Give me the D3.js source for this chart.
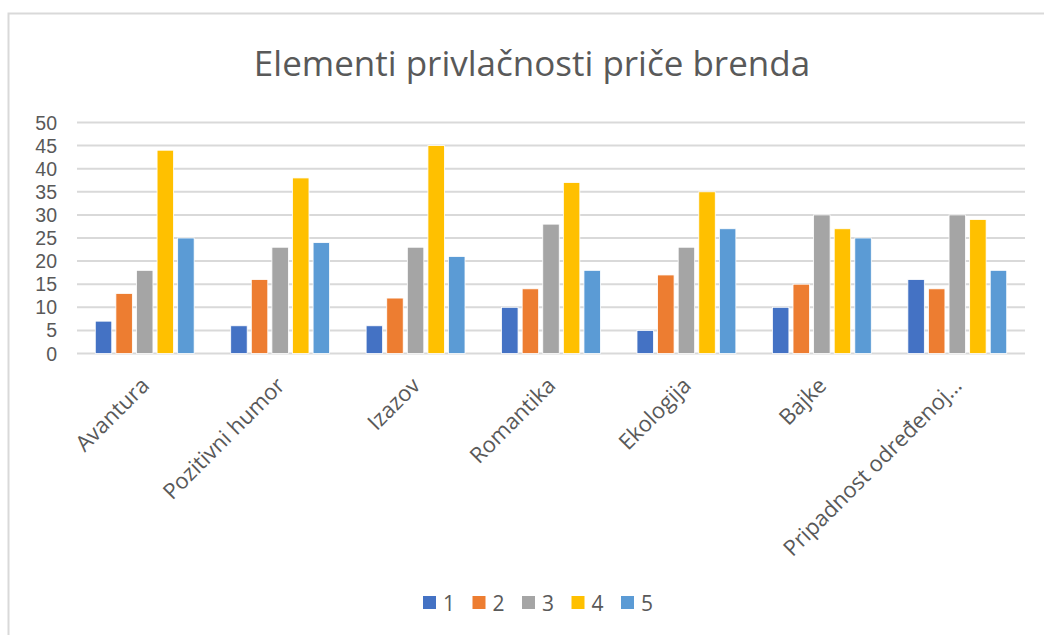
<!DOCTYPE html>
<html>
<head>
<meta charset="utf-8">
<script src="https://cdn.jsdelivr.net/npm/d3@7"></script>
<style>
  body { margin: 0; background: #fff; }
  svg { display: block; font-family: "Open Sans", sans-serif; }
</style>
</head>
<body>
<svg id="chart" width="1044" height="635"></svg>
<script>
'use strict';

const categories = ["Avantura", "Pozitivni humor", "Izazov", "Romantika", "Ekologija", "Bajke", "Pripadnost određenoj..."]
const seriesNames = ["1", "2", "3", "4", "5"]
const series1 = [7, 6, 6, 10, 5, 10, 16]
const series2 = [13, 16, 12, 14, 17, 15, 14]
const series3 = [18, 23, 23, 28, 23, 30, 30]
const series4 = [44, 38, 45, 37, 35, 27, 29]
const series5 = [25, 24, 21, 18, 27, 25, 18]
const yTicks = [0, 5, 10, 15, 20, 25, 30, 35, 40, 45, 50]
const colors = ["#4472c4", "#ed7d31", "#a5a5a5", "#ffc000", "#5b9bd5"]

let allSeries = [series1, series2, series3, series4, series5]

let svg = d3.select("#chart")

// chart frame
svg.append("rect")
    .attr("x", 8.5).attr("y", 13.5)
    .attr("width", 1060).attr("height", 640)
    .attr("fill", "#fff")
    .attr("stroke", "#d9d9d9")
    .attr("stroke-width", 2)

svg.append("text")
    .attr("x", 532).attr("y", 76)
    .attr("text-anchor", "middle")
    .attr("font-size", 35)
    .attr("fill", "#595959")
    .text("Elementi privlačnosti priče brenda")

let plotLeft = 77, plotRight = 1025
let y = d3.scaleLinear().domain([0, 50]).range([353.5, 122.5])

let x0 = d3.scaleBand()
    .domain(categories)
    .range([plotLeft, plotRight])
    .paddingInner(0.27)
    .paddingOuter(0.135)

let x1 = d3.scaleBand()
    .domain(seriesNames)
    .range([0, x0.bandwidth()])
    .paddingInner(0.2)

// gridlines
svg.append("g")
    .selectAll("line")
    .data(yTicks)
    .enter().append("line")
    .attr("x1", plotLeft).attr("x2", plotRight)
    .attr("y1", d => y(d)).attr("y2", d => y(d))
    .attr("stroke", "#d9d9d9")
    .attr("stroke-width", 2)

// y labels (tighter font so the stacked labels don't collide)
svg.append("g")
    .selectAll("text")
    .data(yTicks)
    .enter().append("text")
    .attr("x", 57)
    .attr("y", d => y(d))
    .attr("dy", "0.36em")
    .attr("text-anchor", "end")
    .attr("font-family", "'Liberation Sans', sans-serif")
    .attr("font-size", 19.5)
    .attr("fill", "#595959")
    .text(d => d)

// bars
let groups = svg.append("g")
    .selectAll("g")
    .data(categories)
    .enter().append("g")
    .attr("transform", d => "translate(" + x0(d) + ",0)")

groups.selectAll("rect")
    .data((d, i) => allSeries.map((s, j) => ({ name: seriesNames[j], value: s[i], k: j })))
    .enter().append("rect")
    .attr("x", d => x1(d.name))
    .attr("width", x1.bandwidth())
    .attr("y", d => y(d.value))
    .attr("height", d => y(0) - y(d.value))
    .attr("fill", d => colors[d.k])
    .attr("stroke", "#fff")
    .attr("stroke-width", 0.8)

// x labels
svg.append("g")
    .selectAll("text")
    .data(categories)
    .enter().append("text")
    .attr("transform", d => "translate(" + (x0(d) + x0.bandwidth() / 2 - 5) + ",376) rotate(-45)")
    .attr("text-anchor", "end")
    .attr("dy", "0.7em")
    .attr("font-size", 22)
    .attr("fill", "#595959")
    .text(d => d)

// legend
let legend = svg.append("g")
    .selectAll("g")
    .data(seriesNames)
    .enter().append("g")
    .attr("transform", (d, i) => "translate(" + (423 + i * 49.5) + ",596)")

legend.append("rect")
    .attr("width", 13).attr("height", 13)
    .attr("fill", (d, i) => colors[i])

legend.append("text")
    .attr("x", 20).attr("y", 7)
    .attr("dy", "0.36em")
    .attr("font-size", 21)
    .attr("fill", "#595959")
    .text(d => d)
</script>
</body>
</html>
